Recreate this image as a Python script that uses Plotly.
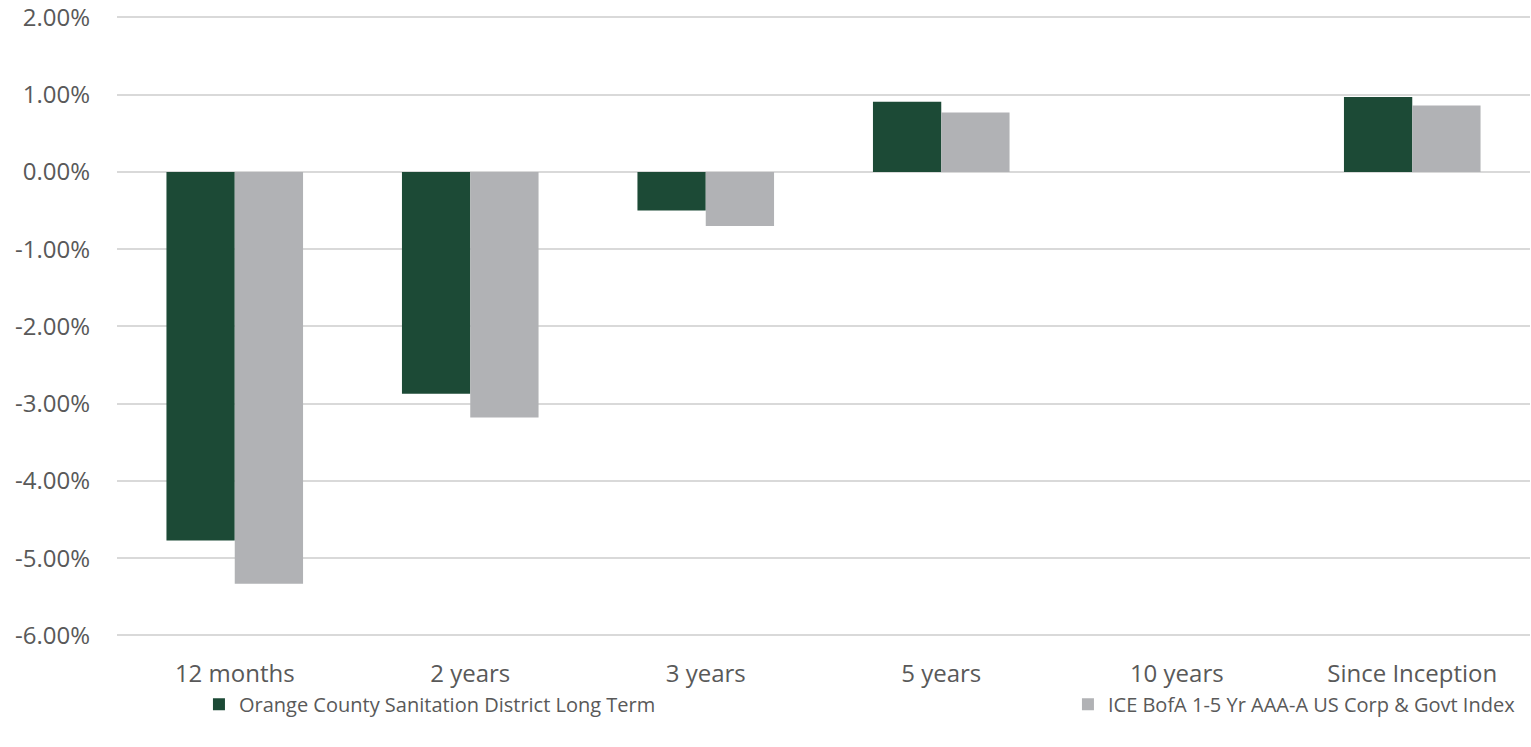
import plotly.graph_objects as go

categories = ["12 months", "2 years", "3 years", "5 years", "10 years", "Since Inception"]
ocsd_long_term = [-4.77, -2.87, -0.50, 0.91, None, 0.97]
ice_bofa_index = [-5.33, -3.18, -0.70, 0.77, None, 0.86]
y_ticks = [2, 1, 0, -1, -2, -3, -4, -5, -6]

green = "#1c4a36"
gray = "#b1b2b5"
text_col = "#595959"
font_family = "Open Sans, Lato, sans-serif"

fig = go.Figure()
fig.add_trace(go.Bar(
    x=categories, y=ocsd_long_term,
    name="Orange County Sanitation District Long Term",
    marker=dict(color=green, line=dict(width=0)),
    legend="legend", showlegend=True,
))
fig.add_trace(go.Bar(
    x=categories, y=ice_bofa_index,
    name="ICE BofA 1-5 Yr AAA-A US Corp & Govt Index",
    marker=dict(color=gray, line=dict(width=0)),
    legend="legend2", showlegend=True,
))

legend_style = dict(
    orientation="h", y=-0.106, yanchor="middle", xanchor="left",
    font=dict(size=20), bgcolor="rgba(0,0,0,0)", visible=True,
)

fig.update_layout(
    width=1531, height=747,
    margin=dict(l=117, r=1, t=2, b=110, autoexpand=False),
    plot_bgcolor="white", paper_bgcolor="white",
    barmode="group", bargap=0.42, bargroupgap=0,
    showlegend=True,
    font=dict(family=font_family, color=text_col, size=24),
    xaxis=dict(showgrid=False, showline=False, ticks="", tickfont=dict(size=24),
               ticklabelstandoff=20, automargin=False),
    yaxis=dict(
        range=[-6.02, 2.2], tickvals=y_ticks,
        ticktext=[f"{v:.2f}%" for v in y_ticks],
        showgrid=True, gridcolor="#d9d9d9", gridwidth=1.5,
        zeroline=False, showline=False, ticks="", ticklabelstandoff=26,
        tickfont=dict(size=24), automargin=False, ticklabeloverflow="allow",
    ),
    legend=dict(x=0.058, **legend_style),
    legend2=dict(x=0.673, **legend_style),
)

fig.write_html("out.html", config={"displayModeBar": False},
               post_script="document.body.style.margin='0';")
